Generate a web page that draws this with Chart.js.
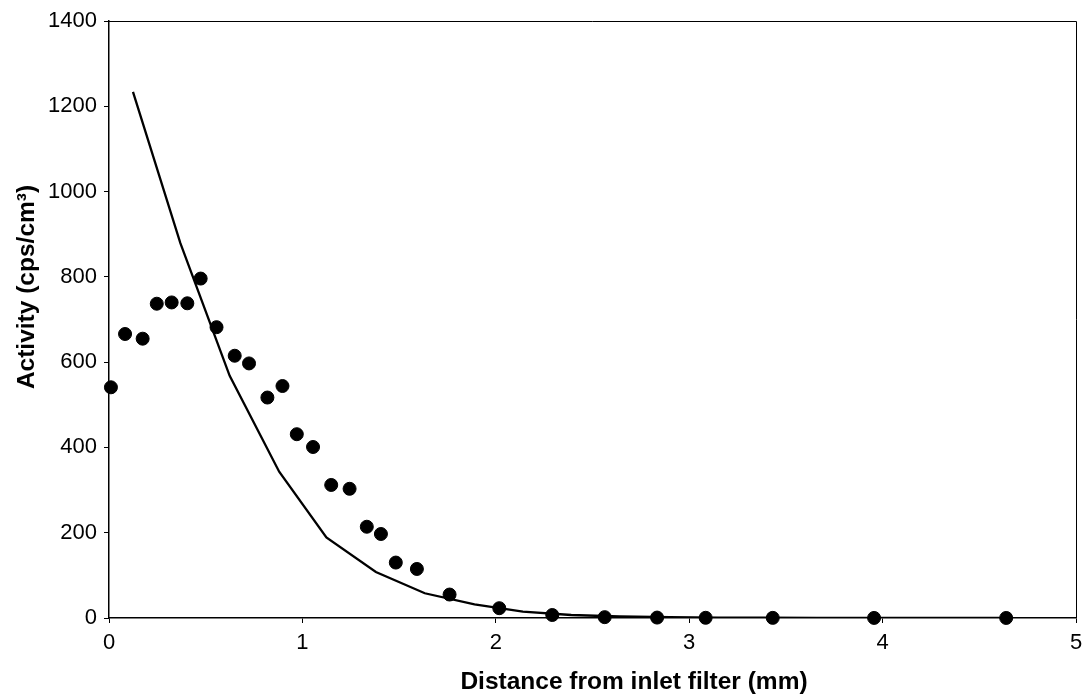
<!DOCTYPE html>
<html>
<head>
<meta charset="utf-8">
<script src="https://cdn.jsdelivr.net/npm/chart.js@4.4.1/dist/chart.umd.min.js"></script>
<style>
  html, body { margin: 0; padding: 0; background: #fff; }
  #wrap { width: 1086px; height: 697px; position: relative; }
</style>
</head>
<body>
<div id="wrap"><canvas id="chart"></canvas></div>
<script>
// measured activity (dots)
const measuredX = [0.01, 0.083, 0.174, 0.247, 0.324, 0.405, 0.474, 0.556, 0.65, 0.724,
  0.819, 0.897, 0.971, 1.055, 1.149, 1.244, 1.333, 1.406, 1.483, 1.592,
  1.761, 2.018, 2.292, 2.563, 2.834, 3.085, 3.432, 3.956, 4.639];
const measuredY = [541, 666, 655, 737, 740, 738, 796, 682, 615, 597,
  517, 544, 431, 401, 312, 303, 214, 197, 130, 115,
  55, 23, 7, 2, 1, 0.5, 0.3, 0.2, 0.1];

// model curve (line)
const modelX = [0.124, 0.369, 0.624, 0.88, 1.124, 1.38, 1.633, 1.89, 2.14, 2.39,
  2.64, 2.9, 3.15, 3.4, 3.66, 3.91, 4.17, 4.42, 4.64];
const modelY = [1234, 879, 568, 343, 189, 108, 58, 32, 15, 7,
  3.5, 1.8, 1, 0.6, 0.4, 0.3, 0.2, 0.15, 0.1];

const xTicks = [0, 1, 2, 3, 4, 5];
const yTicks = [0, 200, 400, 600, 800, 1000, 1200, 1400];

const xTitle = 'Distance from inlet filter (mm)';
const yTitle = 'Activity (cps/cm\u00B3)';

const toPoints = (xs, ys) => xs.map((x, i) => ({ x, y: ys[i] }));

const fontFamily = '"Liberation Sans", Arial, Helvetica, sans-serif';

// box on top/right plus axis titles
const framePlugin = {
  id: 'frame',
  afterDraw(chart) {
    const { ctx, chartArea } = chart;
    ctx.save();
    ctx.strokeStyle = '#000';
    ctx.lineWidth = 1;
    ctx.beginPath();
    ctx.moveTo(chartArea.left, chartArea.top + 0.5);
    ctx.lineTo(chartArea.right + 0.5, chartArea.top + 0.5);
    ctx.lineTo(chartArea.right + 0.5, chartArea.bottom);
    ctx.stroke();

    ctx.fillStyle = '#000';
    ctx.font = 'bold 24.5px ' + fontFamily;
    ctx.textAlign = 'center';
    ctx.textBaseline = 'middle';
    ctx.fillText(xTitle, 634, 682);

    ctx.translate(27, 287);
    ctx.rotate(-Math.PI / 2);
    ctx.fillText(yTitle, 0, 0);
    ctx.restore();
  }
};

new Chart(document.getElementById('chart'), {
  type: 'scatter',
  data: {
    datasets: [
      {
        label: 'measured',
        data: toPoints(measuredX, measuredY),
        backgroundColor: '#000',
        borderColor: '#000',
        pointRadius: 6.5,
        pointHoverRadius: 6.5,
        showLine: false,
        clip: false,
        order: 1
      },
      {
        label: 'model',
        type: 'line',
        data: toPoints(modelX, modelY),
        borderColor: '#000',
        borderWidth: 2.3,
        pointRadius: 0,
        fill: false,
        tension: 0,
        order: 2
      }
    ]
  },
  options: {
    responsive: true,
    maintainAspectRatio: false,
    animation: false,
    layout: { padding: { top: 21, right: 10, left: 0, bottom: 0 } },
    plugins: {
      legend: { display: false },
      tooltip: { enabled: false }
    },
    scales: {
      x: {
        type: 'linear',
        min: 0,
        max: 5,
        afterBuildTicks: (scale) => { scale.ticks = xTicks.map(v => ({ value: v })); },
        afterFit: (scale) => {
          scale.height = 79;
          scale.paddingLeft = 0;
          scale.paddingRight = 0;
        },
        ticks: {
          color: '#000',
          padding: 7,
          font: { family: fontFamily, size: 22 },
          maxRotation: 0,
          callback: (v) => String(v)
        },
        grid: {
          drawOnChartArea: false,
          color: '#000',
          tickLength: 5,
          lineWidth: 1
        },
        border: { color: '#000', width: 1.5 }
      },
      y: {
        type: 'linear',
        min: 0,
        max: 1400,
        afterBuildTicks: (scale) => { scale.ticks = yTicks.map(v => ({ value: v })); },
        afterFit: (scale) => { scale.width = 109; },
        ticks: {
          color: '#000',
          padding: 7,
          font: { family: fontFamily, size: 22 },
          callback: (v) => String(v)
        },
        grid: {
          drawOnChartArea: false,
          color: '#000',
          tickLength: 5,
          lineWidth: 1
        },
        border: { color: '#000', width: 1.5 }
      }
    }
  },
  plugins: [framePlugin]
});
</script>
</body>
</html>
